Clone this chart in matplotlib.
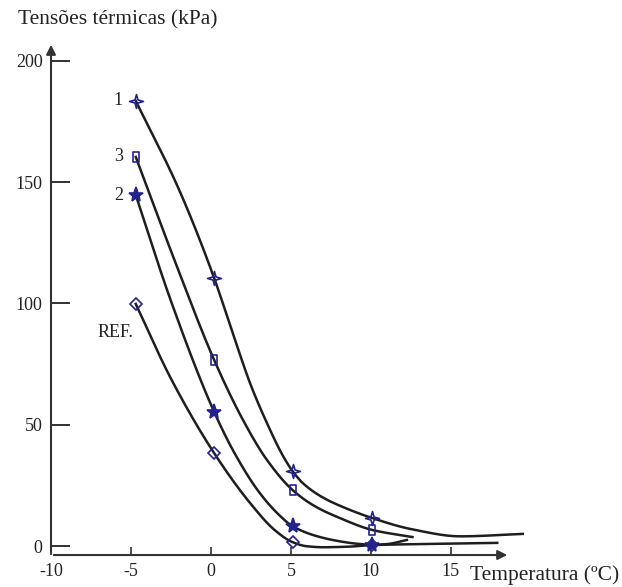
import matplotlib.pyplot as plt
from matplotlib.path import Path
import numpy as np

plt.rcParams["axes.unicode_minus"] = False

# Posições dos marcadores (temperatura em ºC) e tensões lidas (kPa)
temp_marc = [-4.7, 0.2, 5.1, 10.1]
marc_1 = [183.5, 110.5, 30.9, 11.5]
marc_3 = [160.4, 76.7, 23.1, 6.6]
marc_2 = [144.7, 55.3, 8.2, 0.5]
marc_ref = [99.8, 38.3, 1.6, 0.4]

# Traçado das curvas (pontos lidos ao longo de cada linha)
linha_1_x = [-4.7, -2.0, 0.2, 1.3, 2.5, 3.5, 4.5, 5.1, 5.8, 7.0, 8.5, 10.1, 12.5, 15.6, 19.5]
linha_1_y = [183.5, 147.0, 110.5, 89.0, 66.2, 50.7, 37.2, 30.9, 25.6, 20.0, 15.4, 11.5, 7.0, 4.0, 5.0]

linha_3_x = [-4.7, -2.2, 0.2, 2.0, 3.5, 5.1, 6.5, 8.0, 10.1, 12.6]
linha_3_y = [160.4, 116.5, 76.7, 52.0, 35.5, 23.1, 16.4, 11.7, 6.6, 3.7]

linha_2_x = [-4.7, -2.5, 0.2, 1.5, 3.0, 4.2, 5.1, 6.5, 8.0, 9.2, 10.1, 11.0, 12.25]
linha_2_y = [144.7, 101.0, 55.3, 38.0, 22.3, 13.2, 8.2, 4.3, 2.0, 0.9, 0.5, 0.8, 2.5]

linha_ref_x = [-4.7, -2.5, 0.2, 2.5, 4.0, 5.1, 6.0, 7.0, 8.5, 10.1, 14.0, 17.9]
linha_ref_y = [99.8, 69.0, 38.3, 17.3, 6.5, 1.6, -0.1, -0.5, -0.3, 0.4, 0.9, 1.3]

x_ticks = [-10, -5, 0, 5, 10, 15]
y_ticks = [0, 50, 100, 150, 200]

cor_marc = "#23238c"
cor_linha = "#1e1e1e"
cor_texto = "#222222"
fonte = "Liberation Serif"

# marcadores próprios: estrela fina de 4 pontas e retângulo alto
estrela4 = Path([(0, 1), (0.22, 0.22), (1, 0), (0.22, -0.22), (0, -1),
                 (-0.22, -0.22), (-1, 0), (-0.22, 0.22), (0, 1)], closed=True)
retangulo = Path([(-0.6, -1), (0.6, -1), (0.6, 1), (-0.6, 1), (-0.6, -1)], closed=True)


def pchip(x, y, n=400):
    # cúbica de Hermite monótona (Fritsch-Carlson), só para desenhar a linha
    x = np.asarray(x, float)
    y = np.asarray(y, float)
    h = np.diff(x)
    d = np.diff(y) / h
    m = np.zeros_like(y)
    for i in range(1, len(x) - 1):
        if d[i - 1] * d[i] > 0:
            w1 = 2 * h[i] + h[i - 1]
            w2 = h[i] + 2 * h[i - 1]
            m[i] = (w1 + w2) / (w1 / d[i - 1] + w2 / d[i])
    m[0] = d[0]
    m[-1] = d[-1]
    xs = np.linspace(x[0], x[-1], n)
    k = np.clip(np.searchsorted(x, xs) - 1, 0, len(x) - 2)
    t = (xs - x[k]) / h[k]
    h00 = 2 * t ** 3 - 3 * t ** 2 + 1
    h10 = t ** 3 - 2 * t ** 2 + t
    h01 = -2 * t ** 3 + 3 * t ** 2
    h11 = t ** 3 - t ** 2
    ys = h00 * y[k] + h10 * h[k] * m[k] + h01 * y[k + 1] + h11 * h[k] * m[k + 1]
    return xs, ys


fig = plt.figure(figsize=(6.22, 5.87), dpi=100)
ax = fig.add_axes([0.082, 0.0545, 0.738, 0.874])
ax.set_xlim(-10, 18.7)
ax.set_ylim(-3.7, 207.8)

curvas = [
    (linha_1_x, linha_1_y, marc_1, estrela4, 10, "none"),
    (linha_3_x, linha_3_y, marc_3, retangulo, 7, "none"),
    (linha_2_x, linha_2_y, marc_2, "*", 11, cor_marc),
    (linha_ref_x, linha_ref_y, marc_ref, "D", 6, "none"),
]

for lx, ly, my, marc, ms, mfc in curvas:
    sx, sy = pchip(lx, ly)
    ax.plot(sx, sy, color=cor_linha, lw=1.8, zorder=2, clip_on=False)
    ax.plot(temp_marc, my, ls="none", marker=marc, ms=ms, mec=cor_marc,
            mfc=mfc, mew=1.2, zorder=3, clip_on=False)

# rótulos das curvas
ax.text(-5.5, marc_1[0], "1", ha="right", va="center", fontsize=13, family=fonte, color=cor_texto)
ax.text(-5.5, marc_3[0], "3", ha="right", va="center", fontsize=13, family=fonte, color=cor_texto)
ax.text(-5.5, marc_2[0], "2", ha="right", va="center", fontsize=13, family=fonte, color=cor_texto)
ax.text(-7.1, 88, "REF.", ha="left", va="center", fontsize=13, family=fonte, color=cor_texto)

# eixos com setas
for s in ax.spines.values():
    s.set_visible(False)
ax.annotate("", xy=(1, 0), xytext=(0, 0), xycoords="axes fraction",
            arrowprops=dict(arrowstyle="-|>", color="#333", lw=1.5, mutation_scale=14))
ax.annotate("", xy=(0, 1), xytext=(0, 0), xycoords="axes fraction",
            arrowprops=dict(arrowstyle="-|>", color="#333", lw=1.5, mutation_scale=14))

ax.set_xticks(x_ticks)
ax.set_yticks(y_ticks)
ax.tick_params(axis="y", direction="in", length=14, width=1.4, color="#333", pad=6,
               labelsize=13, labelcolor=cor_texto)
ax.tick_params(axis="x", direction="in", length=6, width=1.2, color="#333", pad=6,
               labelsize=13, labelcolor=cor_texto)
for lab in ax.get_xticklabels() + ax.get_yticklabels():
    lab.set_family(fonte)

fig.text(18 / 622, 1 - 20 / 587, "Tensões térmicas (kPa)", ha="left", va="center",
         fontsize=15.5, family=fonte, color=cor_texto)
fig.text(470 / 622, 1 - 575 / 587, "Temperatura (ºC)", ha="left", va="center",
         fontsize=15.5, family=fonte, color=cor_texto)

fig.savefig("out.png", dpi=100)
